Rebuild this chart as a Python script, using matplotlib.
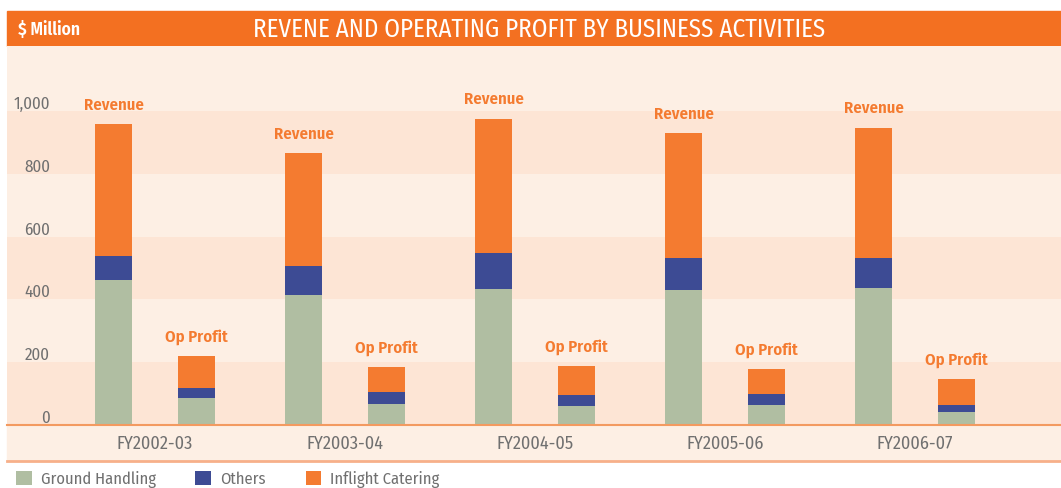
import matplotlib.pyplot as plt
from matplotlib.patches import Rectangle
from matplotlib import font_manager
import numpy as np

years = ["FY2002-03", "FY2003-04", "FY2004-05", "FY2005-06", "FY2006-07"]
# revenue stack ($ million)
rev_ground = [462, 414, 433, 430, 436]
rev_others = [76, 92, 115, 102, 96]
rev_catering = [420, 360, 427, 398, 414]
# operating profit stack ($ million)
op_ground = [86, 67, 61, 64, 41]
op_others = [32, 38, 35, 35, 23]
op_catering = [102, 80, 92, 79, 82]
yticks = [0, 200, 400, 600, 800, 1000]
ytick_labels = ["0", "200", "400", "600", "800", "1,000"]

# pick a condensed face if one is installed
names = set(f.name for f in font_manager.fontManager.ttflist)
wanted = ["Fira Sans Condensed", "Roboto Condensed", "PT Sans Narrow", "Archivo Narrow",
          "IBM Plex Sans Condensed", "Open Sans Condensed", "Asap Condensed",
          "Encode Sans Condensed", "Liberation Sans Narrow"]
face = next((n for n in wanted if n in names), "DejaVu Sans")
plt.rcParams['font.family'] = [face, 'DejaVu Sans']

c_ground = "#b0bea2"
c_others = "#3d4b94"
c_cat = "#f47b30"
c_head = "#f37021"
c_light = "#fdefe4"
c_dark = "#fde5d5"
c_text = "#707070"

W, H = 1061, 488
fig = plt.figure(figsize=(W / 100, H / 100), dpi=100)
rend = fig.canvas.get_renderer()


def fit(s, target, weight="normal"):
    # font size that makes s about target pixels wide
    t = fig.text(0, 0, s, fontsize=10, fontweight=weight)
    wpx = t.get_window_extent(rend).width
    t.remove()
    return 10 * target / wpx


# header bar
fig.patches.append(Rectangle((7 / W, (H - 46) / H), 1 - 7 / W, 35 / H,
                             transform=fig.transFigure, color=c_head, zorder=-1))
fig.text(18 / W, (H - 30) / H, "$ Million", color="white",
         fontsize=fit("$ Million", 63, "semibold"), fontweight="semibold",
         va="center", ha="left")
title = "REVENE AND OPERATING PROFIT BY BUSINESS ACTIVITIES"
fig.text(539 / W, (H - 29.5) / H, title, color="white",
         fontsize=min(fit(title, 570), 19), va="center", ha="center")

# strip under the axis for the category labels
fig.patches.append(Rectangle((7 / W, (H - 461) / H), 1 - 7 / W, 36 / H,
                             transform=fig.transFigure, color=c_light, zorder=-1))
fig.lines.append(plt.Line2D([7 / W, 1], [(H - 461) / H] * 2, transform=fig.transFigure,
                            color="#f7b08a", lw=2))

ax = fig.add_axes([7 / W, (H - 425) / H, 1 - 7 / W, 379 / H])
ax.set_facecolor(c_light)
ax.set_ylim(0, 1207)
ax.set_xlim(-0.779, 4.768)

for i, lo in enumerate(range(0, 1200, 200)):
    ax.axhspan(lo, lo + 200, color=c_dark if i % 2 == 0 else c_light, lw=0, zorder=0)
ax.axhspan(1200, 1300, color=c_light, lw=0, zorder=0)

x = np.arange(len(years))
off, w = 0.218, 0.195
rg = np.array(rev_ground)
ro = np.array(rev_others)
rc = np.array(rev_catering)
og = np.array(op_ground)
oo = np.array(op_others)
oc = np.array(op_catering)

b1 = ax.bar(x - off, rg, w, color=c_ground, zorder=2)
b2 = ax.bar(x - off, ro, w, bottom=rg, color=c_others, zorder=2)
b3 = ax.bar(x - off, rc, w, bottom=rg + ro, color=c_cat, zorder=2)
ax.bar(x + off, og, w, color=c_ground, zorder=2)
ax.bar(x + off, oo, w, bottom=og, color=c_others, zorder=2)
ax.bar(x + off, oc, w, bottom=og + oo, color=c_cat, zorder=2)

fs_lab = fit("Revenue", 60, "semibold")
for i in range(len(years)):
    ax.annotate("Revenue", (x[i] - off, rg[i] + ro[i] + rc[i]), xytext=(0, 8),
                textcoords="offset points", ha="center", va="bottom",
                color=c_cat, fontsize=fs_lab, fontweight="semibold")
    ax.annotate("Op Profit", (x[i] + off, og[i] + oo[i] + oc[i]), xytext=(0, 8),
                textcoords="offset points", ha="center", va="bottom",
                color=c_cat, fontsize=fs_lab, fontweight="semibold")

# y labels sit inside the plot, just above each band edge
fs_y = fit("1,000", 37)
tr = ax.get_yaxis_transform()
for v, lab in zip(yticks, ytick_labels):
    ax.annotate(lab, (43 / 1054, v), xycoords=tr, xytext=(0, 1.5),
                textcoords="offset points", ha="right", va="baseline",
                color=c_text, fontsize=fs_y)
ax.set_yticks([])

ax.set_xticks(x, years)
ax.tick_params(axis="x", length=0, pad=7, labelsize=fit("FY2002-03", 76),
               labelcolor=c_text)
for s in ["top", "right", "left"]:
    ax.spines[s].set_visible(False)
ax.spines["bottom"].set_color("#f39a60")
ax.spines["bottom"].set_linewidth(1.5)

fs_leg = fit("Ground Handling", 115)
fig.legend([b1, b2, b3], ["Ground Handling", "Others", "Inflight Catering"],
           loc="center left", bbox_to_anchor=(16 / W, 9 / H), ncol=3,
           frameon=False, fontsize=fs_leg, labelcolor=c_text,
           handlelength=0.95, handleheight=0.95, handletextpad=0.55,
           columnspacing=2.4, borderpad=0, borderaxespad=0)

fig.savefig("out.png", dpi=100)
